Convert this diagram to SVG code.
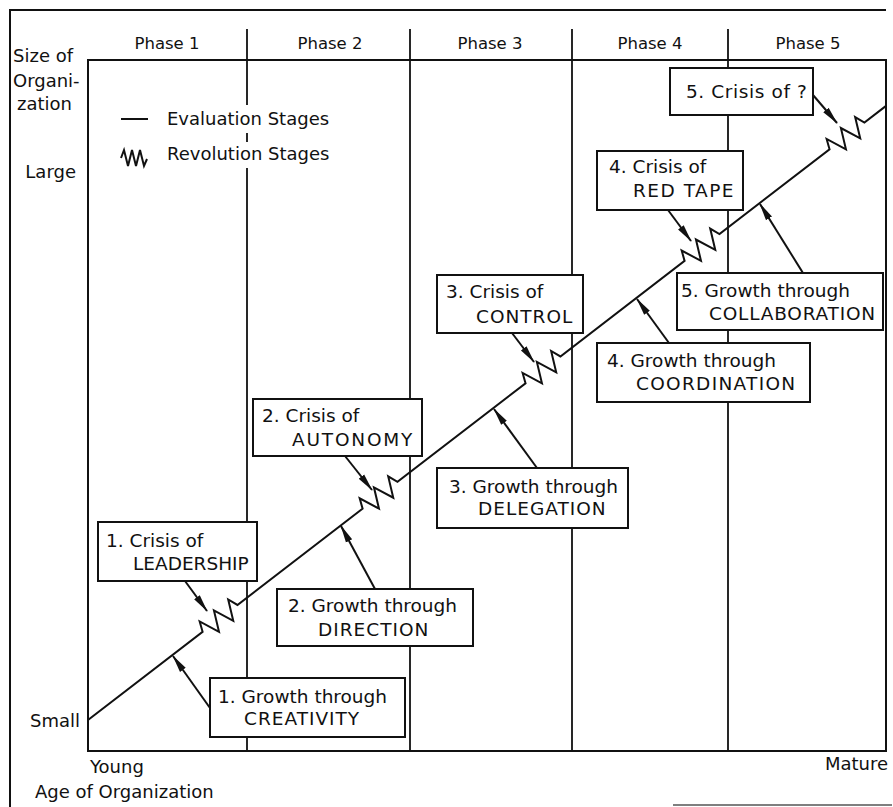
<svg xmlns="http://www.w3.org/2000/svg" width="893" height="807" viewBox="0 0 893 807">
  <style>
    text { font-family: "DejaVu Sans", "Liberation Sans", sans-serif; fill: #111; }
    .hdr { font-size: 16.5px; text-anchor: middle; }
    .axis { font-size: 18px; }
    .lbl { font-size: 18.5px; }
    .caps { letter-spacing: 1px; }
    .frame { fill: none; stroke: #111; stroke-width: 2; }
    .grid { fill: none; stroke: #111; stroke-width: 1.8; }
    .node rect { fill: #fff; stroke: #111; stroke-width: 2; }
    .curve { fill: none; stroke: #111; stroke-width: 2; stroke-linejoin: miter; }
    .arrow { fill: none; stroke: #111; stroke-width: 2; marker-end: url(#head); }
  </style>
  <defs>
    <marker id="head" markerUnits="userSpaceOnUse" markerWidth="19" markerHeight="9" refX="17" refY="4.5" orient="auto">
      <path d="M0,1 L18,4.5 L0,8 Z" fill="#111"/>
    </marker>
  </defs>

  <!-- outer frame -->
  <g id="frame">
    <path class="frame" d="M10,807 V10 H886"/>
    <path d="M673,805 H892" stroke="#555" stroke-width="1.5"/>
  </g>

  <!-- plot area and phase columns -->
  <g id="grid">
    <rect class="frame" x="88" y="60" width="798" height="691"/>
    <path class="grid" d="M247,29 V105 M247,133 V142 M247,168 V751 M410,29 V751 M572,29 V751 M728,29 V751"/>
    <text class="hdr" x="167" y="49">Phase 1</text>
    <text class="hdr" x="330" y="49">Phase 2</text>
    <text class="hdr" x="490" y="49">Phase 3</text>
    <text class="hdr" x="650" y="49">Phase 4</text>
    <text class="hdr" x="808" y="49">Phase 5</text>
  </g>

  <!-- axis labels -->
  <g id="axes">
    <text class="axis" x="13" y="62">Size of</text>
    <text class="axis" x="13" y="87">Organi-</text>
    <text class="axis" x="17" y="110">zation</text>
    <text class="axis" x="76" y="178" text-anchor="end">Large</text>
    <text class="axis" x="80" y="727" text-anchor="end">Small</text>
    <text class="axis" x="90" y="773">Young</text>
    <text class="axis" x="888" y="770" text-anchor="end">Mature</text>
    <text class="axis" x="35" y="798">Age of Organization</text>
  </g>

  <!-- legend -->
  <g id="legend">
    <path d="M121,119 H148" stroke="#111" stroke-width="2"/>
    <text class="axis" x="167" y="125">Evaluation Stages</text>
    <path d="M121,158 L124,150 L128,166 L132,150 L136,166 L140,150 L144,166 L147,159" fill="none" stroke="#111" stroke-width="2"/>
    <text class="axis" x="167" y="160">Revolution Stages</text>
  </g>

  <!-- growth curve: evolution line broken by revolution zigzags -->
  <g id="growth-curve" transform="translate(88,720) rotate(-37.58)">
    <path class="curve" d="M0,0 H144.6 l4,-10 l9,20 l9,-20 l9,20 l9,-20 l4,10
      H346.5 l4,-10 l9,20 l9,-20 l9,20 l9,-20 l4,10
      H552.1 l4,-10 l9,20 l9,-20 l9,20 l9,-20 l4,10
      H752.8 l4,-10 l9,20 l9,-20 l9,20 l9,-20 l4,10
      H935.7 l4,-10 l9,20 l9,-20 l9,20 l9,-20 l4,10
      H1007"/>
  </g>

  <!-- connectors -->
  <g id="connectors">
    <path class="arrow" d="M210,708 L173,656"/>
    <path class="arrow" d="M375,589 L341,526"/>
    <path class="arrow" d="M537,468 L494,409"/>
    <path class="arrow" d="M669,343 L637,299"/>
    <path class="arrow" d="M803,273 L760,204"/>
    <path class="arrow" d="M185,581 L207,611"/>
    <path class="arrow" d="M345,456 L372,490"/>
    <path class="arrow" d="M512,333 L534,362"/>
    <path class="arrow" d="M668,210 L691,241"/>
    <path class="arrow" d="M813,95 L837,123"/>
  </g>

  <!-- crisis nodes -->
  <g id="crisis-1" class="node">
    <rect x="98" y="522" width="159" height="59"/>
    <text class="lbl" x="106" y="547">1. Crisis of</text>
    <text class="lbl" x="133" y="570">LEADERSHIP</text>
  </g>
  <g id="crisis-2" class="node">
    <rect x="253" y="399" width="169" height="57"/>
    <text class="lbl" x="262" y="422">2. Crisis of</text>
    <text class="lbl caps" x="292" y="446" style="letter-spacing:1.8px">AUTONOMY</text>
  </g>
  <g id="crisis-3" class="node">
    <rect x="437" y="275" width="146" height="58"/>
    <text class="lbl" x="446" y="298">3. Crisis of</text>
    <text class="lbl caps" x="476" y="323">CONTROL</text>
  </g>
  <g id="crisis-4" class="node">
    <rect x="597" y="151" width="146" height="59"/>
    <text class="lbl" x="609" y="173">4. Crisis of</text>
    <text class="lbl caps" x="633" y="197" style="letter-spacing:1.5px">RED TAPE</text>
  </g>
  <g id="crisis-5" class="node">
    <rect x="670" y="68" width="143" height="47"/>
    <text class="lbl" x="686" y="98" style="letter-spacing:0.6px">5. Crisis of ?</text>
  </g>

  <!-- growth nodes -->
  <g id="growth-1" class="node">
    <rect x="210" y="678" width="195" height="59"/>
    <text class="lbl" x="218" y="703">1. Growth through</text>
    <text class="lbl caps" x="244" y="725">CREATIVITY</text>
  </g>
  <g id="growth-2" class="node">
    <rect x="277" y="589" width="196" height="57"/>
    <text class="lbl" x="288" y="612">2. Growth through</text>
    <text class="lbl caps" x="318" y="636">DIRECTION</text>
  </g>
  <g id="growth-3" class="node">
    <rect x="437" y="468" width="191" height="60"/>
    <text class="lbl" x="449" y="493">3. Growth through</text>
    <text class="lbl caps" x="478" y="515">DELEGATION</text>
  </g>
  <g id="growth-4" class="node">
    <rect x="597" y="343" width="213" height="59"/>
    <text class="lbl" x="607" y="367">4. Growth through</text>
    <text class="lbl caps" x="636" y="390" style="letter-spacing:1.3px">COORDINATION</text>
  </g>
  <g id="growth-5" class="node">
    <rect x="677" y="273" width="206" height="57"/>
    <text class="lbl" x="681" y="297">5. Growth through</text>
    <text class="lbl caps" x="709" y="320" style="letter-spacing:0.8px">COLLABORATION</text>
  </g>
</svg>
